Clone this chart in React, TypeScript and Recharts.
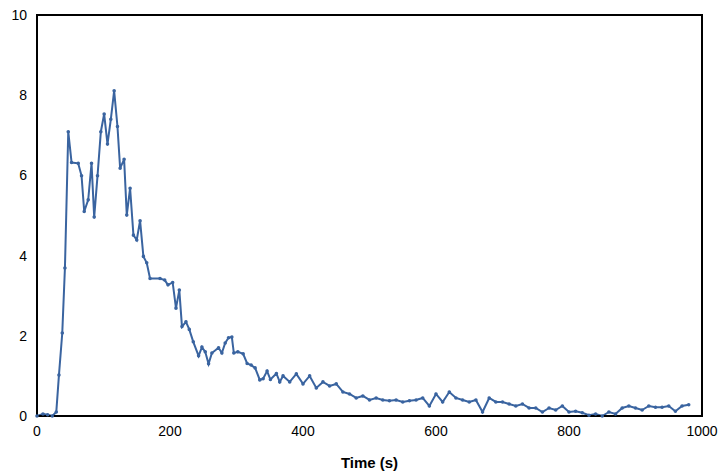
import React from "react";
import { LineChart, Line, XAxis, YAxis, ReferenceArea } from "recharts";

const times = [0,9,16,23,29,33,38,42,47,52,62,67,71,77,82,86,91,96,101,106,111,116,121,125,131,135,140,145,150,155,160,165,170,185,192,197,204,209,214,218,224,229,235,243,248,253,258,263,273,278,283,288,293,296,302,310,316,322,328,335,340,346,351,360,365,370,380,390,400,410,420,430,440,450,460,470,480,490,500,510,520,530,540,550,560,570,580,590,600,610,620,630,640,650,660,670,680,690,700,710,720,730,740,750,760,770,780,790,800,810,820,830,840,850,860,870,880,890,900,910,920,930,940,950,960,970,980];
const values = [0,0.05,0.03,0,0.1,1.02,2.07,3.69,7.09,6.32,6.3,5.99,5.1,5.39,6.3,4.96,5.99,7.09,7.53,6.78,7.4,8.11,7.22,6.18,6.4,5.01,5.68,4.51,4.39,4.87,3.98,3.82,3.43,3.43,3.39,3.27,3.33,2.69,3.14,2.23,2.35,2.16,1.85,1.5,1.72,1.6,1.3,1.57,1.7,1.57,1.82,1.95,1.97,1.57,1.6,1.55,1.31,1.27,1.2,0.9,0.93,1.12,0.91,1.06,0.85,1.0,0.85,1.05,0.8,1.0,0.7,0.85,0.75,0.8,0.6,0.55,0.45,0.5,0.4,0.45,0.4,0.38,0.4,0.35,0.38,0.4,0.45,0.25,0.55,0.35,0.6,0.45,0.4,0.35,0.4,0.1,0.45,0.35,0.35,0.3,0.25,0.3,0.2,0.2,0.1,0.2,0.15,0.25,0.1,0.12,0.08,0.02,0.05,0,0.1,0.05,0.2,0.25,0.2,0.15,0.25,0.22,0.22,0.25,0.12,0.25,0.28];
const xTicks = [0,200,400,600,800,1000];
const yTicks = [0,2,4,6,8,10];

const data = times.map((t, i) => ({ t, v: values[i] }));
const font = { fontFamily: "Liberation Sans, Arial, sans-serif", fontSize: 14, fill: "#000" };

export default function App() {
  return (
    <div style={{ position: "absolute", left: 0, top: 0, background: "#fff" }}>
      <LineChart width={722} height={472} data={data} margin={{ top: 15, right: 20, bottom: 0, left: 0 }}>
        <XAxis dataKey="t" type="number" domain={[0, 1000]} ticks={xTicks} tickLine={false}
          axisLine={{ stroke: "#000", strokeWidth: 2 }} tick={font} height={56} tickMargin={4}
          label={{ value: "Time (s)", position: "insideBottom", offset: 4, style: { ...font, fontSize: 15, fontWeight: "bold" } }} />
        <YAxis domain={[0, 10]} ticks={yTicks} tickLine={false} axisLine={{ stroke: "#000", strokeWidth: 2 }}
          tick={font} width={37} tickMargin={4} interval={0} />
        <ReferenceArea x1={0} x2={1000} y1={0} y2={10} fill="none" fillOpacity={0} stroke="#000" strokeWidth={2} strokeOpacity={1} ifOverflow="visible" />
        <Line dataKey="v" stroke="#3a64a0" strokeWidth={2} type="linear"
          dot={{ r: 0.8, fill: "#3a64a0", stroke: "#3a64a0" }} isAnimationActive={false} />
      </LineChart>
    </div>
  );
}
